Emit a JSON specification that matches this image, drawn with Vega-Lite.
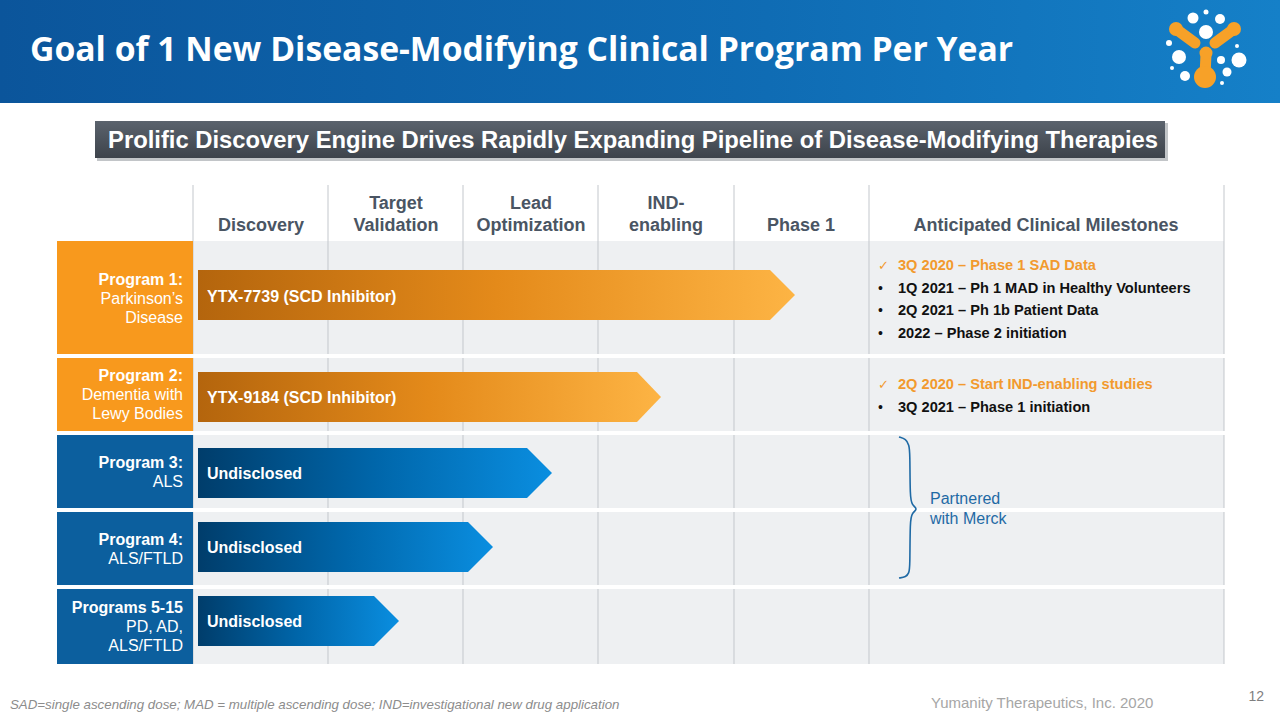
{
  "$schema": "https://vega.github.io/schema/vega-lite/v6.json",
  "width": 1280,
  "height": 720,
  "autosize": {"type": "fit", "contains": "padding"},
  "padding": 0,
  "background": "white",
  "config": {"view": {"stroke": null}},
  "datasets": {
    "header": [{"x": 0, "x2": 1280, "y": 0, "y2": 103}],
    "subShadow": [{"x": 97, "x2": 1168, "y": 123, "y2": 161}],
    "subBox": [{"x": 95, "x2": 1165, "y": 121, "y2": 158}],
    "gridBg": [{"x": 193, "x2": 1224, "y": 241, "y2": 664}],
    "colLines": [
      {"x": 193, "y": 185, "y2": 664}, {"x": 328, "y": 185, "y2": 664}, {"x": 463, "y": 185, "y2": 664},
      {"x": 598, "y": 185, "y2": 664}, {"x": 734, "y": 185, "y2": 664}, {"x": 869, "y": 185, "y2": 664},
      {"x": 1224, "y": 185, "y2": 664}
    ],
    "separators": [
      {"x": 57, "x2": 1225, "y": 354, "y2": 358}, {"x": 57, "x2": 1225, "y": 431, "y2": 435},
      {"x": 57, "x2": 1225, "y": 508, "y2": 512}, {"x": 57, "x2": 1225, "y": 585, "y2": 589}
    ],
    "orangeBoxes": [{"x": 57, "x2": 193, "y": 241, "y2": 354}, {"x": 57, "x2": 193, "y": 358, "y2": 431}],
    "blueBoxes": [{"x": 57, "x2": 193, "y": 435, "y2": 508}, {"x": 57, "x2": 193, "y": 512, "y2": 585}, {"x": 57, "x2": 193, "y": 589, "y2": 664}],
    "orangeArrows": [
      {"id": "A1", "x": 198, "y": 270, "y2": 320}, {"id": "A1", "x": 770, "y": 270, "y2": 320}, {"id": "A1", "x": 795, "y": 295, "y2": 295},
      {"id": "A2", "x": 198, "y": 372, "y2": 422}, {"id": "A2", "x": 637, "y": 372, "y2": 422}, {"id": "A2", "x": 661, "y": 397, "y2": 397}
    ],
    "blueArrows": [
      {"id": "A3", "x": 198, "y": 448, "y2": 498}, {"id": "A3", "x": 527, "y": 448, "y2": 498}, {"id": "A3", "x": 552, "y": 473, "y2": 473},
      {"id": "A4", "x": 198, "y": 522, "y2": 572}, {"id": "A4", "x": 468, "y": 522, "y2": 572}, {"id": "A4", "x": 493, "y": 547, "y2": 547},
      {"id": "A5", "x": 198, "y": 596, "y2": 646}, {"id": "A5", "x": 374, "y": 596, "y2": 646}, {"id": "A5", "x": 399, "y": 621, "y2": 621}
    ],
    "brace": [
      {"i": 0, "x": 899, "y": 437}, {"i": 1, "x": 906, "y": 439}, {"i": 2, "x": 909, "y": 445}, {"i": 3, "x": 910, "y": 452},
      {"i": 4, "x": 910, "y": 498}, {"i": 5, "x": 912, "y": 505}, {"i": 6, "x": 918, "y": 509}, {"i": 7, "x": 912, "y": 513},
      {"i": 8, "x": 910, "y": 520}, {"i": 9, "x": 910, "y": 567}, {"i": 10, "x": 909, "y": 573}, {"i": 11, "x": 906, "y": 577},
      {"i": 12, "x": 899, "y": 578}
    ],
    "logoArms": [
      {"x": 1176, "y": 29, "x2": 1195, "y2": 43},
      {"x": 1234, "y": 29, "x2": 1215, "y2": 43},
      {"x": 1206, "y": 54, "x2": 1205, "y2": 76}
    ],
    "logoOrangeDots": [{"x": 1205, "y": 77, "d": 22}, {"x": 1206, "y": 53, "d": 13}, {"x": 1176, "y": 29, "d": 14}, {"x": 1234, "y": 29, "d": 14}],
    "logoWhiteDots": [
      {"x": 1193, "y": 18, "d": 11}, {"x": 1206, "y": 12, "d": 5}, {"x": 1220, "y": 19, "d": 10}, {"x": 1206, "y": 32, "d": 14},
      {"x": 1169, "y": 43, "d": 6}, {"x": 1179, "y": 57, "d": 14}, {"x": 1237, "y": 46, "d": 4}, {"x": 1239, "y": 60, "d": 15},
      {"x": 1221, "y": 60, "d": 8}, {"x": 1227, "y": 72, "d": 9}, {"x": 1185, "y": 76, "d": 10}, {"x": 1172, "y": 68, "d": 4},
      {"x": 1222, "y": 83, "d": 4}
    ],
    "title": [{"x": 30, "y": 51, "t": "Goal of 1 New Disease-Modifying Clinical Program Per Year"}],
    "subtitle": [{"x": 633, "y": 141, "t": "Prolific Discovery Engine Drives Rapidly Expanding Pipeline of Disease-Modifying Therapies"}],
    "colHeads": [
      {"x": 261, "y": 226, "t": "Discovery"},
      {"x": 396, "y": 204, "t": "Target"}, {"x": 396, "y": 226, "t": "Validation"},
      {"x": 531, "y": 204, "t": "Lead"}, {"x": 531, "y": 226, "t": "Optimization"},
      {"x": 666, "y": 204, "t": "IND-"}, {"x": 666, "y": 226, "t": "enabling"},
      {"x": 801, "y": 226, "t": "Phase 1"},
      {"x": 1046, "y": 226, "t": "Anticipated Clinical Milestones"}
    ],
    "progBold": [
      {"x": 183, "y": 280, "t": "Program 1:"}, {"x": 183, "y": 376, "t": "Program 2:"},
      {"x": 183, "y": 463, "t": "Program 3:"}, {"x": 183, "y": 540, "t": "Program 4:"},
      {"x": 183, "y": 608, "t": "Programs 5-15"}
    ],
    "progText": [
      {"x": 183, "y": 299, "t": "Parkinson’s"}, {"x": 183, "y": 318, "t": "Disease"},
      {"x": 183, "y": 395, "t": "Dementia with"}, {"x": 183, "y": 414, "t": "Lewy Bodies"},
      {"x": 183, "y": 482, "t": "ALS"}, {"x": 183, "y": 559, "t": "ALS/FTLD"},
      {"x": 183, "y": 627, "t": "PD, AD,"}, {"x": 183, "y": 646, "t": "ALS/FTLD"}
    ],
    "arrowText": [
      {"x": 207, "y": 297, "t": "YTX-7739 (SCD Inhibitor)"}, {"x": 207, "y": 398, "t": "YTX-9184 (SCD Inhibitor)"},
      {"x": 207, "y": 474, "t": "Undisclosed"}, {"x": 207, "y": 548, "t": "Undisclosed"}, {"x": 207, "y": 622, "t": "Undisclosed"}
    ],
    "checks": [{"x": 878, "y": 266, "t": "✓"}, {"x": 878, "y": 385, "t": "✓"}],
    "bullets": [{"x": 878, "y": 289, "t": "•"}, {"x": 878, "y": 311, "t": "•"}, {"x": 878, "y": 334, "t": "•"}, {"x": 878, "y": 408, "t": "•"}],
    "msOrange": [{"x": 898, "y": 266, "t": "3Q 2020 – Phase 1 SAD Data"}, {"x": 898, "y": 385, "t": "2Q 2020 – Start IND-enabling studies"}],
    "msBlack": [
      {"x": 898, "y": 289, "t": "1Q 2021 – Ph 1 MAD in Healthy Volunteers"}, {"x": 898, "y": 311, "t": "2Q 2021 – Ph 1b Patient Data"},
      {"x": 898, "y": 334, "t": "2022 – Phase 2 initiation"}, {"x": 898, "y": 408, "t": "3Q 2021 – Phase 1 initiation"}
    ],
    "partner": [{"x": 930, "y": 499, "t": "Partnered"}, {"x": 930, "y": 519, "t": "with Merck"}],
    "footnote": [{"x": 10, "y": 705, "t": "SAD=single ascending dose; MAD = multiple ascending dose; IND=investigational new drug application"}],
    "company": [{"x": 931, "y": 703, "t": "Yumanity Therapeutics, Inc. 2020"}],
    "page": [{"x": 1264, "y": 697, "t": "12"}]
  },
  "layer": [
    {"data": {"name": "header"}, "mark": {"type": "rect", "color": {"gradient": "linear", "x1": 0, "x2": 1, "y1": 0, "y2": 0, "stops": [{"offset": 0, "color": "#0b559b"}, {"offset": 0.6, "color": "#0f6cb4"}, {"offset": 1, "color": "#1580c8"}]}},
     "encoding": {"x": {"field": "x", "type": "quantitative", "scale": {"domain": [0, 1280], "nice": false, "zero": false}, "axis": null}, "x2": {"field": "x2"},
                  "y": {"field": "y", "type": "quantitative", "scale": {"domain": [0, 720], "reverse": true, "nice": false, "zero": false}, "axis": null}, "y2": {"field": "y2"}}},
    {"data": {"name": "subShadow"}, "mark": {"type": "rect", "color": "#9a9ea4", "opacity": 0.6},
     "encoding": {"x": {"field": "x", "type": "quantitative", "scale": {"domain": [0, 1280], "nice": false, "zero": false}, "axis": null}, "x2": {"field": "x2"},
                  "y": {"field": "y", "type": "quantitative", "scale": {"domain": [0, 720], "reverse": true, "nice": false, "zero": false}, "axis": null}, "y2": {"field": "y2"}}},
    {"data": {"name": "subBox"}, "mark": {"type": "rect", "color": {"gradient": "linear", "x1": 0, "x2": 0, "y1": 0, "y2": 1, "stops": [{"offset": 0, "color": "#5b636d"}, {"offset": 1, "color": "#3d434b"}]}},
     "encoding": {"x": {"field": "x", "type": "quantitative", "scale": {"domain": [0, 1280], "nice": false, "zero": false}, "axis": null}, "x2": {"field": "x2"},
                  "y": {"field": "y", "type": "quantitative", "scale": {"domain": [0, 720], "reverse": true, "nice": false, "zero": false}, "axis": null}, "y2": {"field": "y2"}}},
    {"data": {"name": "gridBg"}, "mark": {"type": "rect", "color": "#eef0f2"},
     "encoding": {"x": {"field": "x", "type": "quantitative", "scale": {"domain": [0, 1280], "nice": false, "zero": false}, "axis": null}, "x2": {"field": "x2"},
                  "y": {"field": "y", "type": "quantitative", "scale": {"domain": [0, 720], "reverse": true, "nice": false, "zero": false}, "axis": null}, "y2": {"field": "y2"}}},
    {"data": {"name": "colLines"}, "mark": {"type": "rule", "color": "#c3c7cc", "strokeWidth": 1},
     "encoding": {"x": {"field": "x", "type": "quantitative", "scale": {"domain": [0, 1280], "nice": false, "zero": false}, "axis": null},
                  "y": {"field": "y", "type": "quantitative", "scale": {"domain": [0, 720], "reverse": true, "nice": false, "zero": false}, "axis": null}, "y2": {"field": "y2"}}},
    {"data": {"name": "separators"}, "mark": {"type": "rect", "color": "#ffffff"},
     "encoding": {"x": {"field": "x", "type": "quantitative", "scale": {"domain": [0, 1280], "nice": false, "zero": false}, "axis": null}, "x2": {"field": "x2"},
                  "y": {"field": "y", "type": "quantitative", "scale": {"domain": [0, 720], "reverse": true, "nice": false, "zero": false}, "axis": null}, "y2": {"field": "y2"}}},
    {"data": {"name": "orangeBoxes"}, "mark": {"type": "rect", "color": "#f8991d"},
     "encoding": {"x": {"field": "x", "type": "quantitative", "scale": {"domain": [0, 1280], "nice": false, "zero": false}, "axis": null}, "x2": {"field": "x2"},
                  "y": {"field": "y", "type": "quantitative", "scale": {"domain": [0, 720], "reverse": true, "nice": false, "zero": false}, "axis": null}, "y2": {"field": "y2"}}},
    {"data": {"name": "blueBoxes"}, "mark": {"type": "rect", "color": "#0c5f9e"},
     "encoding": {"x": {"field": "x", "type": "quantitative", "scale": {"domain": [0, 1280], "nice": false, "zero": false}, "axis": null}, "x2": {"field": "x2"},
                  "y": {"field": "y", "type": "quantitative", "scale": {"domain": [0, 720], "reverse": true, "nice": false, "zero": false}, "axis": null}, "y2": {"field": "y2"}}},
    {"data": {"name": "orangeArrows"}, "mark": {"type": "area", "color": {"gradient": "linear", "x1": 0, "x2": 1, "y1": 0, "y2": 0, "stops": [{"offset": 0, "color": "#b4650d"}, {"offset": 0.5, "color": "#e48a1a"}, {"offset": 1, "color": "#fdb444"}]}},
     "encoding": {"x": {"field": "x", "type": "quantitative", "scale": {"domain": [0, 1280], "nice": false, "zero": false}, "axis": null},
                  "y": {"field": "y", "type": "quantitative", "scale": {"domain": [0, 720], "reverse": true, "nice": false, "zero": false}, "axis": null}, "y2": {"field": "y2"},
                  "detail": {"field": "id"}}},
    {"data": {"name": "blueArrows"}, "mark": {"type": "area", "color": {"gradient": "linear", "x1": 0, "x2": 1, "y1": 0, "y2": 0, "stops": [{"offset": 0, "color": "#003d6b"}, {"offset": 0.5, "color": "#0066aa"}, {"offset": 1, "color": "#0a8ee0"}]}},
     "encoding": {"x": {"field": "x", "type": "quantitative", "scale": {"domain": [0, 1280], "nice": false, "zero": false}, "axis": null},
                  "y": {"field": "y", "type": "quantitative", "scale": {"domain": [0, 720], "reverse": true, "nice": false, "zero": false}, "axis": null}, "y2": {"field": "y2"},
                  "detail": {"field": "id"}}},
    {"data": {"name": "brace"}, "mark": {"type": "line", "color": "#1f6aa5", "strokeWidth": 1.6, "interpolate": "basis"},
     "encoding": {"x": {"field": "x", "type": "quantitative", "scale": {"domain": [0, 1280], "nice": false, "zero": false}, "axis": null},
                  "y": {"field": "y", "type": "quantitative", "scale": {"domain": [0, 720], "reverse": true, "nice": false, "zero": false}, "axis": null},
                  "order": {"field": "i", "type": "quantitative"}}},
    {"data": {"name": "logoArms"}, "mark": {"type": "rule", "color": "#f7a128", "strokeWidth": 11, "strokeCap": "round"},
     "encoding": {"x": {"field": "x", "type": "quantitative", "scale": {"domain": [0, 1280], "nice": false, "zero": false}, "axis": null}, "x2": {"field": "x2"},
                  "y": {"field": "y", "type": "quantitative", "scale": {"domain": [0, 720], "reverse": true, "nice": false, "zero": false}, "axis": null}, "y2": {"field": "y2"}}},
    {"data": {"name": "logoOrangeDots"}, "mark": {"type": "circle", "color": "#f7a128", "opacity": 1},
     "encoding": {"x": {"field": "x", "type": "quantitative", "scale": {"domain": [0, 1280], "nice": false, "zero": false}, "axis": null},
                  "y": {"field": "y", "type": "quantitative", "scale": {"domain": [0, 720], "reverse": true, "nice": false, "zero": false}, "axis": null},
                  "size": {"field": "d", "type": "quantitative", "scale": {"type": "pow", "exponent": 2, "domain": [0, 100], "range": [0, 10000]}, "legend": null}}},
    {"data": {"name": "logoWhiteDots"}, "mark": {"type": "circle", "color": "#ffffff", "opacity": 1},
     "encoding": {"x": {"field": "x", "type": "quantitative", "scale": {"domain": [0, 1280], "nice": false, "zero": false}, "axis": null},
                  "y": {"field": "y", "type": "quantitative", "scale": {"domain": [0, 720], "reverse": true, "nice": false, "zero": false}, "axis": null},
                  "size": {"field": "d", "type": "quantitative", "scale": {"type": "pow", "exponent": 2, "domain": [0, 100], "range": [0, 10000]}, "legend": null}}},
    {"data": {"name": "title"}, "mark": {"type": "text", "align": "left", "baseline": "middle", "font": "Open Sans", "fontWeight": "bold", "fontSize": 33.7, "color": "#ffffff"},
     "encoding": {"x": {"field": "x", "type": "quantitative", "scale": {"domain": [0, 1280], "nice": false, "zero": false}, "axis": null},
                  "y": {"field": "y", "type": "quantitative", "scale": {"domain": [0, 720], "reverse": true, "nice": false, "zero": false}, "axis": null}, "text": {"field": "t"}}},
    {"data": {"name": "subtitle"}, "mark": {"type": "text", "align": "center", "baseline": "middle", "font": "Liberation Sans", "fontWeight": "bold", "fontSize": 23.8, "color": "#ffffff"},
     "encoding": {"x": {"field": "x", "type": "quantitative", "scale": {"domain": [0, 1280], "nice": false, "zero": false}, "axis": null},
                  "y": {"field": "y", "type": "quantitative", "scale": {"domain": [0, 720], "reverse": true, "nice": false, "zero": false}, "axis": null}, "text": {"field": "t"}}},
    {"data": {"name": "colHeads"}, "mark": {"type": "text", "align": "center", "baseline": "middle", "font": "Liberation Sans", "fontWeight": "bold", "fontSize": 18, "color": "#4a5563"},
     "encoding": {"x": {"field": "x", "type": "quantitative", "scale": {"domain": [0, 1280], "nice": false, "zero": false}, "axis": null},
                  "y": {"field": "y", "type": "quantitative", "scale": {"domain": [0, 720], "reverse": true, "nice": false, "zero": false}, "axis": null}, "text": {"field": "t"}}},
    {"data": {"name": "progBold"}, "mark": {"type": "text", "align": "right", "baseline": "middle", "font": "Liberation Sans", "fontWeight": "bold", "fontSize": 16, "color": "#ffffff"},
     "encoding": {"x": {"field": "x", "type": "quantitative", "scale": {"domain": [0, 1280], "nice": false, "zero": false}, "axis": null},
                  "y": {"field": "y", "type": "quantitative", "scale": {"domain": [0, 720], "reverse": true, "nice": false, "zero": false}, "axis": null}, "text": {"field": "t"}}},
    {"data": {"name": "progText"}, "mark": {"type": "text", "align": "right", "baseline": "middle", "font": "Liberation Sans", "fontSize": 16, "color": "#ffffff"},
     "encoding": {"x": {"field": "x", "type": "quantitative", "scale": {"domain": [0, 1280], "nice": false, "zero": false}, "axis": null},
                  "y": {"field": "y", "type": "quantitative", "scale": {"domain": [0, 720], "reverse": true, "nice": false, "zero": false}, "axis": null}, "text": {"field": "t"}}},
    {"data": {"name": "arrowText"}, "mark": {"type": "text", "align": "left", "baseline": "middle", "font": "Liberation Sans", "fontWeight": "bold", "fontSize": 16, "color": "#ffffff"},
     "encoding": {"x": {"field": "x", "type": "quantitative", "scale": {"domain": [0, 1280], "nice": false, "zero": false}, "axis": null},
                  "y": {"field": "y", "type": "quantitative", "scale": {"domain": [0, 720], "reverse": true, "nice": false, "zero": false}, "axis": null}, "text": {"field": "t"}}},
    {"data": {"name": "checks"}, "mark": {"type": "text", "align": "left", "baseline": "middle", "font": "DejaVu Sans", "fontSize": 13, "color": "#f29a2e"},
     "encoding": {"x": {"field": "x", "type": "quantitative", "scale": {"domain": [0, 1280], "nice": false, "zero": false}, "axis": null},
                  "y": {"field": "y", "type": "quantitative", "scale": {"domain": [0, 720], "reverse": true, "nice": false, "zero": false}, "axis": null}, "text": {"field": "t"}}},
    {"data": {"name": "bullets"}, "mark": {"type": "text", "align": "left", "baseline": "middle", "font": "Liberation Sans", "fontSize": 14, "color": "#111111"},
     "encoding": {"x": {"field": "x", "type": "quantitative", "scale": {"domain": [0, 1280], "nice": false, "zero": false}, "axis": null},
                  "y": {"field": "y", "type": "quantitative", "scale": {"domain": [0, 720], "reverse": true, "nice": false, "zero": false}, "axis": null}, "text": {"field": "t"}}},
    {"data": {"name": "msOrange"}, "mark": {"type": "text", "align": "left", "baseline": "middle", "font": "Liberation Sans", "fontWeight": "bold", "fontSize": 14.6, "color": "#f29a2e"},
     "encoding": {"x": {"field": "x", "type": "quantitative", "scale": {"domain": [0, 1280], "nice": false, "zero": false}, "axis": null},
                  "y": {"field": "y", "type": "quantitative", "scale": {"domain": [0, 720], "reverse": true, "nice": false, "zero": false}, "axis": null}, "text": {"field": "t"}}},
    {"data": {"name": "msBlack"}, "mark": {"type": "text", "align": "left", "baseline": "middle", "font": "Liberation Sans", "fontWeight": "bold", "fontSize": 14.6, "color": "#111111"},
     "encoding": {"x": {"field": "x", "type": "quantitative", "scale": {"domain": [0, 1280], "nice": false, "zero": false}, "axis": null},
                  "y": {"field": "y", "type": "quantitative", "scale": {"domain": [0, 720], "reverse": true, "nice": false, "zero": false}, "axis": null}, "text": {"field": "t"}}},
    {"data": {"name": "partner"}, "mark": {"type": "text", "align": "left", "baseline": "middle", "font": "Liberation Sans", "fontSize": 16, "color": "#1f6aa5"},
     "encoding": {"x": {"field": "x", "type": "quantitative", "scale": {"domain": [0, 1280], "nice": false, "zero": false}, "axis": null},
                  "y": {"field": "y", "type": "quantitative", "scale": {"domain": [0, 720], "reverse": true, "nice": false, "zero": false}, "axis": null}, "text": {"field": "t"}}},
    {"data": {"name": "footnote"}, "mark": {"type": "text", "align": "left", "baseline": "middle", "font": "Liberation Sans", "fontStyle": "italic", "fontSize": 13.3, "color": "#8c8c8c"},
     "encoding": {"x": {"field": "x", "type": "quantitative", "scale": {"domain": [0, 1280], "nice": false, "zero": false}, "axis": null},
                  "y": {"field": "y", "type": "quantitative", "scale": {"domain": [0, 720], "reverse": true, "nice": false, "zero": false}, "axis": null}, "text": {"field": "t"}}},
    {"data": {"name": "company"}, "mark": {"type": "text", "align": "left", "baseline": "middle", "font": "Liberation Sans", "fontSize": 15, "color": "#a6a6a6"},
     "encoding": {"x": {"field": "x", "type": "quantitative", "scale": {"domain": [0, 1280], "nice": false, "zero": false}, "axis": null},
                  "y": {"field": "y", "type": "quantitative", "scale": {"domain": [0, 720], "reverse": true, "nice": false, "zero": false}, "axis": null}, "text": {"field": "t"}}},
    {"data": {"name": "page"}, "mark": {"type": "text", "align": "right", "baseline": "middle", "font": "Liberation Sans", "fontSize": 14, "color": "#7f7f7f"},
     "encoding": {"x": {"field": "x", "type": "quantitative", "scale": {"domain": [0, 1280], "nice": false, "zero": false}, "axis": null},
                  "y": {"field": "y", "type": "quantitative", "scale": {"domain": [0, 720], "reverse": true, "nice": false, "zero": false}, "axis": null}, "text": {"field": "t"}}}
  ]
}
